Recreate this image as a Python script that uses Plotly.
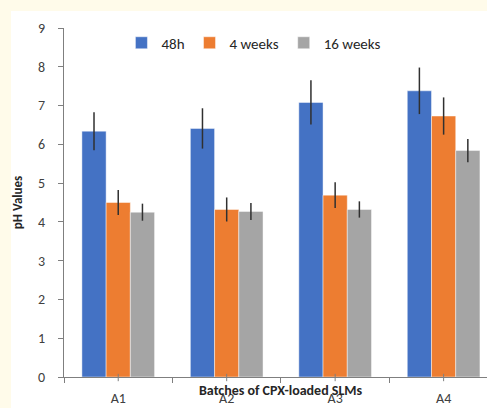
import plotly.graph_objects as go

categories = ["A1", "A2", "A3", "A4"]
series_names = ["48h", "4 weeks", "16 weeks"]
ph_48h = [6.34, 6.41, 7.08, 7.38]
ph_4w = [4.50, 4.32, 4.69, 6.73]
ph_16w = [4.25, 4.27, 4.32, 5.84]
err_48h = [0.49, 0.52, 0.57, 0.60]
err_4w = [0.32, 0.31, 0.33, 0.48]
err_16w = [0.22, 0.22, 0.21, 0.30]
y_ticks = [0, 1, 2, 3, 4, 5, 6, 7, 8, 9]

colors = ["#4472C4", "#ED7D31", "#A5A5A5"]
FONT = "Carlito, Lato, Liberation Sans, sans-serif"

fig = go.Figure()
for name, vals, errs, col in zip(series_names, [ph_48h, ph_4w, ph_16w],
                                 [err_48h, err_4w, err_16w], colors):
    fig.add_trace(go.Bar(
        x=categories, y=vals, name=name,
        marker=dict(color=col, line=dict(color="rgba(255,255,255,0.45)", width=1)),
        error_y=dict(type="data", array=errs, visible=True, color="#303030",
                     thickness=1.5, width=0),
    ))

# white panel behind the chart
fig.add_shape(type="rect", xref="paper", yref="paper",
              x0=-0.1253, x1=1.05, y0=-0.12, y1=1.0487,
              fillcolor="white", line=dict(width=0), layer="below")

# small center ticks on category axis
for c in categories:
    fig.add_shape(type="line", xref="x", yref="paper", x0=c, x1=c,
                  y0=-0.012, y1=0.009, line=dict(color="#7f7f7f", width=1))

fig.add_annotation(text="<b>Batches of CPX-loaded SLMs</b>", xref="paper", yref="paper",
                   x=(281 - 64) / 423, y=-13 / 349, xanchor="center", yanchor="middle",
                   showarrow=False, font=dict(size=14, color="#262626", family=FONT))

fig.update_layout(
    width=487, height=408,
    margin=dict(l=64, r=0, t=28, b=31),
    paper_bgcolor="#FFFBEA", plot_bgcolor="white",
    font=dict(family=FONT, color="#404040"),
    barmode="group", bargap=0.33, bargroupgap=0,
    showlegend=True,
    legend=dict(orientation="h", x=0.449, xanchor="center", y=0.957, yanchor="middle",
                font=dict(size=15, color="#262626"), bgcolor="rgba(0,0,0,0)",
                itemwidth=30, tracegroupgap=0),
    xaxis=dict(range=[-0.5, 3.4], showline=True, linecolor="#7f7f7f", linewidth=1,
               ticks="outside", tickson="boundaries", ticklen=5, tickcolor="#7f7f7f",
               tickfont=dict(size=14, color="#404040"), showgrid=False,
               ticklabelstandoff=8, automargin=False),
    yaxis=dict(range=[0, 9], tickvals=y_ticks, showline=True, linecolor="#7f7f7f",
               linewidth=1, ticks="outside", ticklen=5, tickcolor="#7f7f7f",
               tickfont=dict(size=14, color="#404040"), showgrid=False, zeroline=False,
               ticklabelstandoff=10, automargin=False,
               title=dict(text="<b>pH Values</b>", font=dict(size=13, color="#262626"),
                          standoff=12)),
)

fig.write_html("out.html", config={"displayModeBar": False},
               post_script="document.body.style.margin='0';document.body.style.overflow='hidden';")
